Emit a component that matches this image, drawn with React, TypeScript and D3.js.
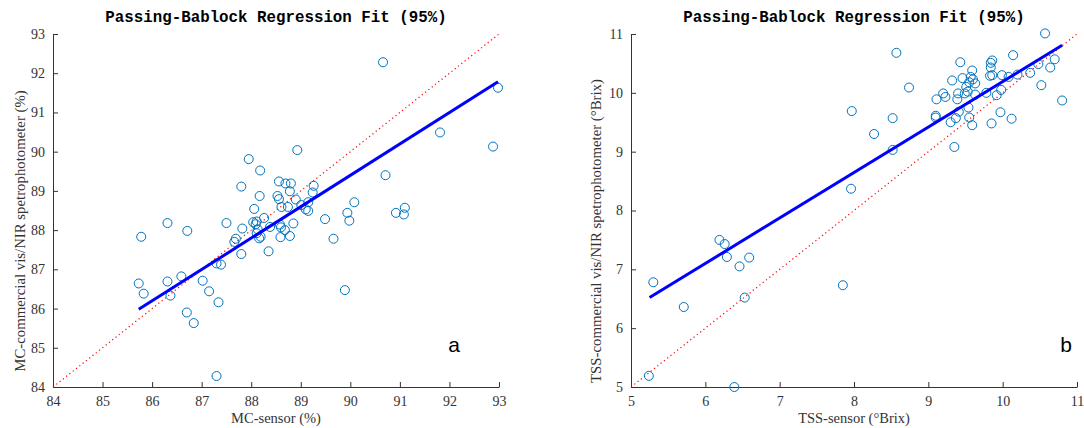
import React, { useEffect, useRef } from 'react';
import * as d3 from 'd3';

// MC panel (a)
const mcSensor = [85.73, 85.78, 85.83, 86.31, 86.31, 86.37, 86.59, 86.71, 86.70, 86.84, 87.02, 87.15, 87.30, 87.39, 87.34, 87.30, 87.50, 87.69, 87.66, 87.80, 87.82, 87.80, 87.95, 88.18, 88.17, 88.06, 88.04, 88.09, 88.11, 88.13, 88.11, 88.16, 88.19, 88.26, 88.38, 88.35, 88.56, 88.69, 88.80, 88.78, 88.53, 88.56, 88.61, 88.74, 88.90, 88.58, 88.60, 88.68, 88.85, 88.59, 88.78, 88.93, 89.26, 89.24, 89.15, 89.01, 89.10, 89.15, 89.49, 89.66, 89.94, 89.98, 90.08, 89.89, 90.66, 90.71, 90.92, 91.10, 91.08, 91.81, 92.88, 92.98];
const mcNir = [86.64, 87.83, 86.38, 88.18, 86.69, 86.33, 86.82, 87.98, 85.90, 85.63, 86.71, 86.44, 87.15, 87.12, 86.16, 84.28, 88.18, 87.78, 87.70, 87.39, 88.04, 89.11, 89.81, 89.52, 88.87, 88.54, 88.20, 88.15, 88.22, 88.02, 87.92, 87.79, 87.83, 88.31, 88.08, 87.46, 89.24, 89.19, 89.19, 88.99, 88.87, 88.79, 88.59, 88.59, 88.78, 88.14, 88.07, 88.00, 88.17, 87.82, 87.85, 90.04, 89.13, 88.96, 88.71, 88.64, 88.53, 88.49, 88.28, 87.78, 88.44, 88.24, 88.71, 86.47, 92.28, 89.40, 88.44, 88.57, 88.40, 90.49, 90.13, 91.63];
const mcTicks = [84, 85, 86, 87, 88, 89, 90, 91, 92, 93];
const mcFitX = [85.73, 92.98];
const mcFitY = [85.98, 91.78];

// TSS panel (b)
const tssSensor = [5.24, 5.30, 5.71, 6.19, 6.26, 6.29, 6.46, 6.59, 6.53, 6.39, 7.85, 7.96, 7.97, 8.27, 8.52, 8.52, 8.57, 8.74, 9.10, 9.10, 9.11, 9.20, 9.23, 9.30, 9.32, 9.35, 9.37, 9.39, 9.40, 9.41, 9.43, 9.46, 9.49, 9.51, 9.53, 9.54, 9.55, 9.55, 9.57, 9.59, 9.59, 9.60, 9.63, 9.63, 9.78, 9.83, 9.84, 9.84, 9.85, 9.86, 9.86, 9.92, 9.97, 9.98, 9.99, 10.08, 10.12, 10.14, 10.20, 10.37, 10.48, 10.52, 10.57, 10.64, 10.70, 10.80];
const tssNir = [5.19, 6.78, 6.36, 7.50, 7.43, 7.21, 7.05, 7.20, 6.52, 5.00, 6.73, 8.37, 9.69, 9.30, 9.57, 9.03, 10.68, 10.09, 9.61, 9.58, 9.89, 9.99, 9.93, 9.50, 10.21, 9.08, 9.57, 9.89, 9.99, 9.68, 10.52, 10.25, 9.99, 10.10, 10.02, 9.75, 9.58, 10.18, 10.27, 10.38, 9.45, 10.23, 10.16, 9.97, 10.00, 10.29, 10.43, 10.51, 9.48, 10.55, 10.30, 9.96, 9.67, 10.05, 10.30, 10.27, 9.56, 10.64, 10.31, 10.34, 10.49, 10.13, 11.01, 10.43, 10.57, 9.87];
const tssTicks = [5, 6, 7, 8, 9, 10, 11];
const tssFitX = [5.25, 10.80];
const tssFitY = [6.52, 10.81];

const chartTitle = 'Passing-Bablock Regression Fit (95%)';

const panels = [
  {
    left: 53, xs: mcSensor, ys: mcNir, ticks: mcTicks, fitX: mcFitX, fitY: mcFitY,
    xLabel: 'MC-sensor (%)', yLabel: 'MC-commercial vis/NIR spetrophotometer (%)',
    letter: 'a', letterX: 454, yTitleX: 20,
  },
  {
    left: 631, xs: tssSensor, ys: tssNir, ticks: tssTicks, fitX: tssFitX, fitY: tssFitY,
    xLabel: 'TSS-sensor (°Brix)', yLabel: 'TSS-commercial vis/NIR spetrophotometer (°Brix)',
    letter: 'b', letterX: 1066, yTitleX: 596,
  },
];

const top = 34;
const bottom = 387;
const plotW = 446;
const axisColor = '#333';
const serif = '"Liberation Serif", "Times New Roman", serif';

function drawPanel(root, p) {
  const lo = p.ticks[0];
  const hi = p.ticks[p.ticks.length - 1];
  const x = d3.scaleLinear().domain([lo, hi]).range([p.left, p.left + plotW]);
  const y = d3.scaleLinear().domain([lo, hi]).range([bottom, top]);

  // title
  root.append('text')
    .attr('x', p.left + plotW / 2)
    .attr('y', 22)
    .attr('text-anchor', 'middle')
    .style('font-family', '"Liberation Mono", "Courier New", monospace')
    .style('font-weight', 'bold')
    .style('font-size', '15.8px')
    .attr('fill', '#000')
    .text(chartTitle);

  // axes, MATLAB style ticks pointing in
  const gx = root.append('g')
    .attr('transform', `translate(0,${bottom})`)
    .call(d3.axisBottom(x).tickValues(p.ticks).tickSizeInner(-5).tickSizeOuter(0).tickPadding(9).tickFormat(d3.format('d')));
  const gy = root.append('g')
    .attr('transform', `translate(${p.left},0)`)
    .call(d3.axisLeft(y).tickValues(p.ticks).tickSizeInner(-5).tickSizeOuter(0).tickPadding(8).tickFormat(d3.format('d')));
  [gx, gy].forEach(g => {
    g.select('.domain').attr('stroke', axisColor);
    g.selectAll('.tick line').attr('stroke', axisColor);
    g.selectAll('.tick text')
      .attr('fill', axisColor)
      .style('font-family', serif)
      .style('font-size', '14px');
  });

  // axis titles
  root.append('text')
    .attr('x', p.left + plotW / 2)
    .attr('y', 423)
    .attr('text-anchor', 'middle')
    .attr('fill', axisColor)
    .style('font-family', serif)
    .style('font-size', '14.5px')
    .text(p.xLabel);
  root.append('text')
    .attr('transform', `translate(${p.yTitleX},231) rotate(-90)`)
    .attr('text-anchor', 'middle')
    .attr('dy', '0.35em')
    .attr('fill', axisColor)
    .style('font-family', serif)
    .style('font-size', '14.8px')
    .text(p.yLabel);

  // identity line y = x
  root.append('line')
    .attr('x1', x(lo)).attr('y1', y(lo))
    .attr('x2', x(hi)).attr('y2', y(hi))
    .attr('stroke', '#ff0000')
    .attr('stroke-width', 1.2)
    .attr('stroke-dasharray', '1.2,3');

  // data points
  root.append('g')
    .selectAll('circle')
    .data(p.xs.map((v, i) => [v, p.ys[i]]))
    .enter().append('circle')
    .attr('cx', d => x(d[0]))
    .attr('cy', d => y(d[1]))
    .attr('r', 4.5)
    .attr('fill', 'none')
    .attr('stroke', '#0072BD')
    .attr('stroke-width', 1);

  // regression fit
  const line = d3.line().x(d => x(d[0])).y(d => y(d[1]));
  root.append('path')
    .attr('d', line(p.fitX.map((v, i) => [v, p.fitY[i]])))
    .attr('stroke', '#0000ff')
    .attr('stroke-width', 3)
    .attr('fill', 'none');

  // panel letter
  root.append('text')
    .attr('x', p.letterX)
    .attr('y', 352)
    .attr('text-anchor', 'middle')
    .attr('fill', '#000')
    .style('font-family', '"Liberation Sans", Arial, sans-serif')
    .style('font-size', '21px')
    .text(p.letter);
}

const App = () => {
  const ref = useRef(null);

  useEffect(() => {
    const svg = d3.select(ref.current);
    svg.selectAll('*').remove();
    svg.append('rect').attr('width', 1084).attr('height', 428).attr('fill', '#fff');
    panels.forEach(p => drawPanel(svg.append('g'), p));
  }, []);

  return (
    <div style={{ position: 'absolute', left: 0, top: 0 }}>
      <svg ref={ref} width={1084} height={428} />
    </div>
  );
};

export default App;
